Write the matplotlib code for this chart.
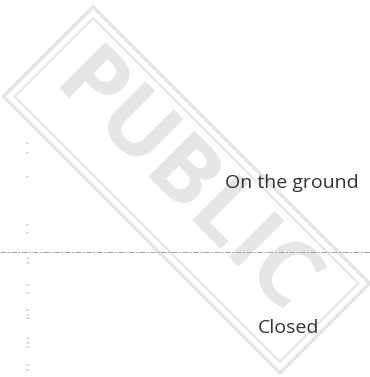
import matplotlib
matplotlib.use("Agg")
from matplotlib import pyplot as plt
from matplotlib.patches import Rectangle

# chart content
zones = ["On the ground", "Closed"]
zone_y = [1.0, -1.1]
zone_x = [0.79, 0.78]
threshold = 0.0
stamp_text = "PUBLIC"
# faint tick marks along the left edge
tick_values = [1.58, 1.43, 1.09, 0.39, 0.28, -0.09, -0.16, -0.48, -0.59,
               -0.84, -0.91, -0.96, -1.25, -1.32, -1.38, -1.64, -1.71]

fig = plt.figure(figsize=(3.70, 3.77), dpi=100)

# main axes: the threshold line and the two zone labels
ax = fig.add_axes([0, 0, 1, 1])
ax.set_xlim(0, 1)
ax.set_ylim(-1.81, 3.65)
ax.set_facecolor('none')
for s in ax.spines.values():
    s.set_visible(False)
ax.spines['left'].set_position(('axes', 0.07))
ax.set_xticks([])
ax.set_yticks(tick_values)
ax.set_yticklabels([])
ax.tick_params(axis='y', direction='in', length=2.5, width=1.2,
               color='#d8d8d8')

# stamp layer (pixel space, drawn underneath)
st = fig.add_axes([0, 0, 1, 1], zorder=-1)
st.set_xlim(0, 370)
st.set_ylim(0, 377)
st.axis('off')
cx, cy = 186.5, 187
grey = '#e6e6e6'
for w, h, lw in [(391, 127, 2.6), (375, 111, 1.6)]:
    st.add_patch(Rectangle((cx - w / 2, cy - h / 2), w, h, angle=-45,
                           rotation_point='center', fill=False,
                           edgecolor=grey, linewidth=lw))
st.text(cx - 3, cy + 3, stamp_text, rotation=-45, ha='center', va='center',
        rotation_mode='anchor', fontsize=66, fontweight='bold',
        family='Open Sans', color=grey)

ax.axhline(threshold, color='#a0a0a0', linewidth=0.7,
           linestyle=(0, (6, 1.5, 2, 1.5)))

for label, x, y in zip(zones, zone_x, zone_y):
    ax.text(x, y, label, ha='center', va='center', fontsize=14,
            family='Open Sans', color='#333333')

fig.savefig('out.png', dpi=100)
